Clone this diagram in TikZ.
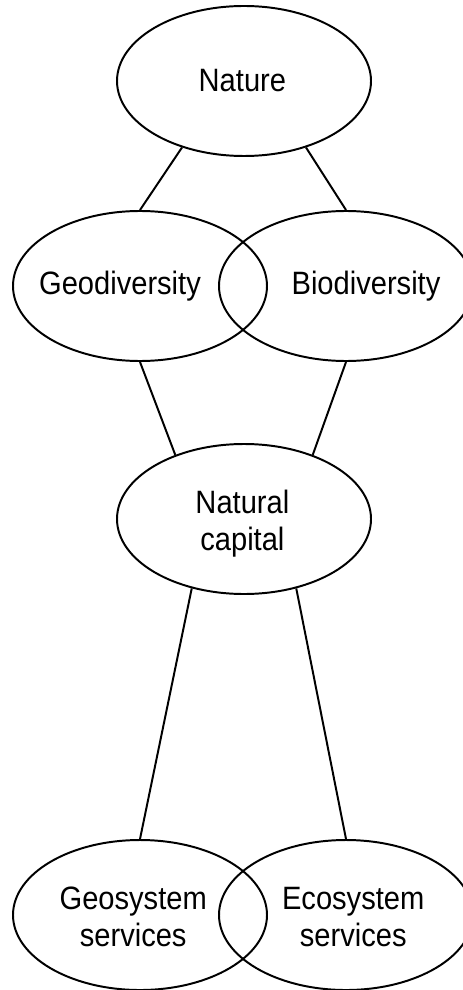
\documentclass[tikz,border=0pt]{standalone}
\usepackage{fontspec}
\setmainfont{Liberation Sans}[FakeStretch=0.9]
\usetikzlibrary{shapes.geometric}

\tikzset{
    blob/.style={draw, ellipse, inner sep=0pt, minimum width=6.35cm, minimum height=3.75cm},
    words/.style={align=center, inner sep=0pt, font=\fontsize{23}{26.3}\selectfont},
}

\begin{document}
\begin{tikzpicture}[line width=1.4pt]
    \useasboundingbox (0, 0) rectangle (11.55, -24.75);

    % Top
    \node[blob, label={[words, xshift=-0.04cm]center:Nature}] (nature) at (6.1, -2.025) {};

    % Diversity
    \node[blob, label={[words, xshift=-0.5cm]center:Geodiversity}] (geodiv) at (3.5, -7.15) {};
    \node[blob, label={[words, xshift=0.5cm]center:Biodiversity}] (biodiv) at (8.65, -7.15) {};

    % Capital
    \node[blob, label={[words, xshift=-0.04cm, yshift=-0.12cm]center:Natural\\capital}] (capital) at (6.1, -12.975) {};

    % Services
    \node[blob, label={[words, xshift=-0.17cm, yshift=-0.05cm]center:Geosystem\\services}] (geoserv) at (3.5, -22.875) {};
    \node[blob, label={[words, xshift=0.18cm, yshift=-0.05cm]center:Ecosystem\\services}] (ecoserv) at (8.65, -22.875) {};

    % Links
    \draw (nature.227) -- (geodiv.north);
    \draw (nature.313) -- (biodiv.north);
    \draw (geodiv.south) -- (capital.137);
    \draw (biodiv.south) -- (capital.43);
    \draw (capital.233) -- (geoserv.north);
    \draw (capital.307) -- (ecoserv.north);
\end{tikzpicture}
\end{document}
